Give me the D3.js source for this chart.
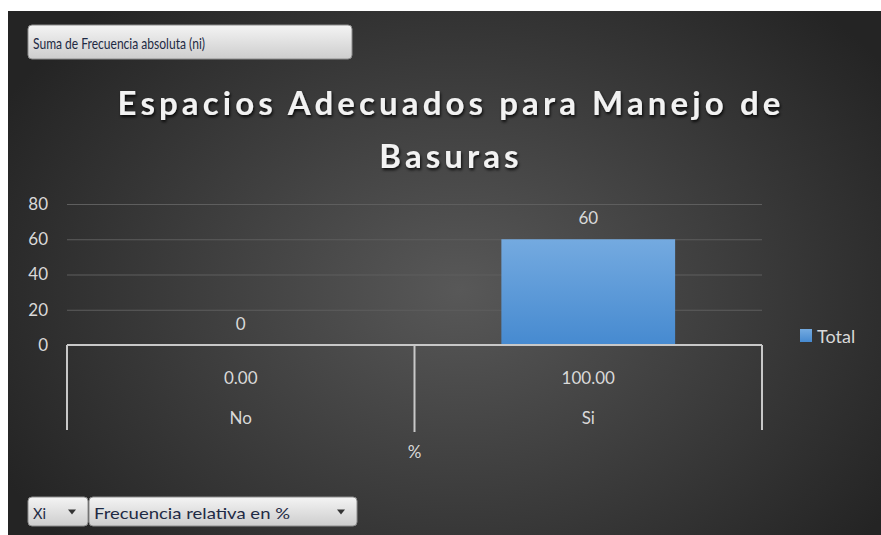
<!DOCTYPE html>
<html>
<head>
<meta charset="utf-8">
<script src="https://cdn.jsdelivr.net/npm/d3@7"></script>
<style>
  html, body { margin: 0; padding: 0; background: #ffffff; }
  svg { display: block; }
  .lbl { font-family: Lato, "Open Sans", sans-serif; fill: #d9d9d9; }
  .ui { font-family: "Liberation Sans Narrow", Lato, sans-serif; fill: #1e2a44; }
</style>
</head>
<body>
<div id="chart"></div>
<script>
// Excel pivot chart: "Espacios Adecuados para Manejo de Basuras"
const categories = ['No', 'Si'];
const percentLabels = ['0.00', '100.00'];
const values = [0, 60];
const yTicks = [0, 20, 40, 60, 80];
const outerLabel = '%';
const seriesName = 'Total';
const titleLines = ['Espacios Adecuados para Manejo de', 'Basuras'];

const width = 881;
const height = 535;
const plot = { left: 67, right: 762, top: 204, bottom: 345 };

const svg = d3.select('#chart')
  .append('svg')
  .attr('width', width)
  .attr('height', height);

const defs = svg.append('defs');

const bg = defs.append('radialGradient')
  .attr('id', 'bg')
  .attr('gradientUnits', 'userSpaceOnUse')
  .attr('cx', 460).attr('cy', 290).attr('r', 520)
  .attr('gradientTransform', 'translate(460,290) scale(1,0.75) translate(-460,-290)');
bg.append('stop').attr('offset', '0%').attr('stop-color', '#585858');
bg.append('stop').attr('offset', '100%').attr('stop-color', '#242424');

const barGrad = defs.append('linearGradient')
  .attr('id', 'bar').attr('x1', 0).attr('y1', 0).attr('x2', 0).attr('y2', 1);
barGrad.append('stop').attr('offset', '0%').attr('stop-color', '#74aae0');
barGrad.append('stop').attr('offset', '100%').attr('stop-color', '#468ad0');

const btnGrad = defs.append('linearGradient')
  .attr('id', 'btn').attr('x1', 0).attr('y1', 0).attr('x2', 0).attr('y2', 1);
btnGrad.append('stop').attr('offset', '0%').attr('stop-color', '#f4f4f4');
btnGrad.append('stop').attr('offset', '100%').attr('stop-color', '#cdcdcd');

const shadow = defs.append('filter').attr('id', 'shadow')
  .attr('x', '-10%').attr('y', '-30%').attr('width', '120%').attr('height', '160%');
shadow.append('feDropShadow')
  .attr('dx', 1).attr('dy', 2).attr('stdDeviation', 1.8)
  .attr('flood-color', '#000').attr('flood-opacity', 0.85);

// panel background
svg.append('rect')
  .attr('x', 8).attr('y', 11)
  .attr('width', width - 8).attr('height', height - 11)
  .attr('fill', 'url(#bg)');

// scales
const x = d3.scaleBand()
  .domain(categories)
  .range([plot.left, plot.right])
  .padding(0);

const y = d3.scaleLinear()
  .domain([0, 80])
  .range([plot.bottom, plot.top]);

const barWidth = x.bandwidth() * 0.5;

// gridlines
svg.append('g')
  .attr('transform', `translate(${plot.left},0)`)
  .call(d3.axisLeft(y).tickValues(yTicks.slice(1)).tickSize(-(plot.right - plot.left)).tickFormat(''))
  .call((g) => g.select('.domain').remove())
  .selectAll('line')
  .attr('stroke', '#5e5e5e')
  .attr('stroke-width', 1);

// y axis labels
svg.append('g')
  .attr('transform', `translate(${plot.left},0)`)
  .call(d3.axisLeft(y).tickValues(yTicks).tickSize(0).tickPadding(19))
  .call((g) => g.select('.domain').remove())
  .selectAll('text')
  .attr('class', 'lbl')
  .attr('font-size', 17)
  .attr('fill', '#d9d9d9');

// bars
svg.selectAll('rect.bar')
  .data(values)
  .join('rect')
  .attr('class', 'bar')
  .attr('x', (d, i) => x(categories[i]) + (x.bandwidth() - barWidth) / 2)
  .attr('y', (d) => y(d))
  .attr('width', barWidth)
  .attr('height', (d) => y(0) - y(d))
  .attr('fill', 'url(#bar)');

// data labels
svg.selectAll('text.data-label')
  .data(values)
  .join('text')
  .attr('class', 'lbl data-label')
  .attr('x', (d, i) => x(categories[i]) + x.bandwidth() / 2)
  .attr('y', (d) => y(d) - 22)
  .attr('text-anchor', 'middle')
  .attr('dominant-baseline', 'central')
  .attr('font-size', 17)
  .text((d) => d);

// multi-level category axis
const axisColor = '#c8c8c8';
const axisG = svg.append('g').attr('stroke', axisColor).attr('stroke-width', 2);
axisG.append('line')
  .attr('x1', plot.left).attr('x2', plot.right)
  .attr('y1', y(0)).attr('y2', y(0));
const dividers = [plot.left, ...categories.slice(1).map((c) => x(c)), plot.right];
axisG.selectAll('line.div')
  .data(dividers)
  .join('line')
  .attr('class', 'div')
  .attr('x1', (d) => d).attr('x2', (d) => d)
  .attr('y1', y(0))
  .attr('y2', (d, i) => (i === 0 || i === dividers.length - 1 ? 430 : 432));

svg.selectAll('text.pct')
  .data(percentLabels)
  .join('text')
  .attr('class', 'lbl pct')
  .attr('x', (d, i) => x(categories[i]) + x.bandwidth() / 2)
  .attr('y', 377)
  .attr('text-anchor', 'middle')
  .attr('dominant-baseline', 'central')
  .attr('font-size', 17)
  .text((d) => d);

svg.selectAll('text.cat')
  .data(categories)
  .join('text')
  .attr('class', 'lbl cat')
  .attr('x', (d) => x(d) + x.bandwidth() / 2)
  .attr('y', 417)
  .attr('text-anchor', 'middle')
  .attr('dominant-baseline', 'central')
  .attr('font-size', 17)
  .text((d) => d);

svg.append('text')
  .attr('class', 'lbl')
  .attr('x', (plot.left + plot.right) / 2)
  .attr('y', 451)
  .attr('text-anchor', 'middle')
  .attr('dominant-baseline', 'central')
  .attr('font-size', 17)
  .text(outerLabel);

// title
svg.append('g')
  .attr('filter', 'url(#shadow)')
  .selectAll('text')
  .data(titleLines)
  .join('text')
  .attr('x', 451)
  .attr('y', (d, i) => 115 + i * 53)
  .attr('text-anchor', 'middle')
  .attr('font-family', 'Lato, "Open Sans", sans-serif')
  .attr('font-weight', 'bold')
  .attr('font-size', 33)
  .attr('letter-spacing', 4.1)
  .attr('fill', '#f2f2f2')
  .text((d) => d);

// legend
svg.append('rect')
  .attr('x', 800).attr('y', 329)
  .attr('width', 12).attr('height', 13)
  .attr('fill', 'url(#bar)');
svg.append('text')
  .attr('class', 'lbl')
  .attr('x', 817).attr('y', 336)
  .attr('dominant-baseline', 'central')
  .attr('font-size', 18)
  .text(seriesName);

// pivot field buttons
function button(bx, by, bw, bh, label, textLen, arrowX) {
  const g = svg.append('g');
  g.append('rect')
    .attr('x', bx).attr('y', by)
    .attr('width', bw).attr('height', bh)
    .attr('rx', 4)
    .attr('fill', 'url(#btn)')
    .attr('stroke', '#8c8c8c');
  g.append('text')
    .attr('class', 'ui')
    .attr('x', bx + 5)
    .attr('y', by + bh / 2 + 1)
    .attr('dominant-baseline', 'central')
    .attr('font-size', 15)
    .attr('textLength', textLen)
    .attr('lengthAdjust', 'spacingAndGlyphs')
    .text(label);
  if (arrowX) {
    const cy = by + bh / 2;
    g.append('path')
      .attr('d', `M${arrowX - 4},${cy - 2}L${arrowX + 4},${cy - 2}L${arrowX},${cy + 3}Z`)
      .attr('fill', '#333');
  }
}

button(28, 25, 324, 34, 'Suma de Frecuencia absoluta (ni)', 172, null);
button(28, 497, 60, 29, 'Xi', 13, 72);
button(89, 497, 268, 29, 'Frecuencia relativa en %', 196, 341);
</script>
</body>
</html>
